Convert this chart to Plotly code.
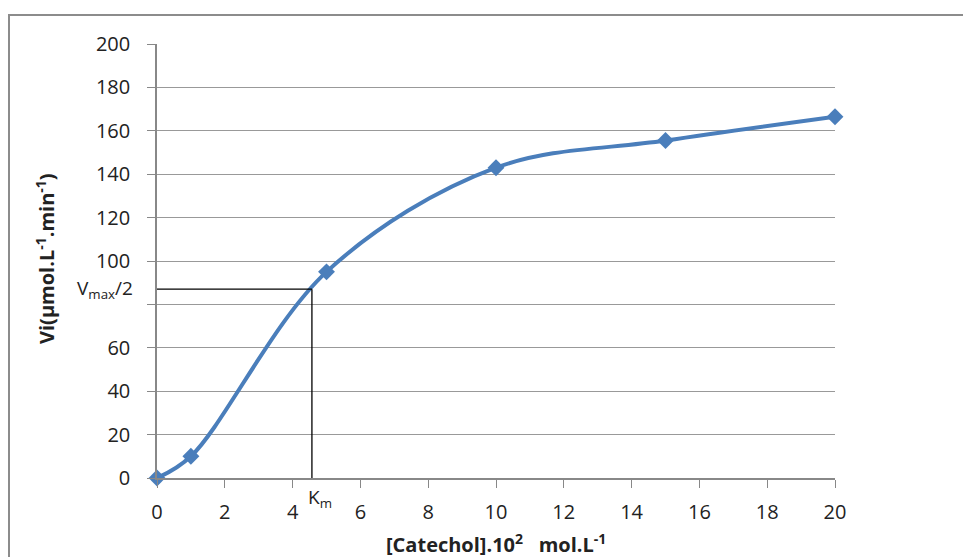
import plotly.graph_objects as go

# Initial velocity vs catechol concentration
conc = [0, 1, 5, 10, 15, 20]
vi = [0, 10, 95, 143, 155.5, 166.5]

km = 4.57
vmax_half = 87

y_ticks = [0, 20, 40, 60, 80, 100, 120, 140, 160, 180, 200]
y_labels = ["0", "20", "40", "60", "", "100", "120", "140", "160", "180", "200"]
x_ticks = [0, 2, 4, 6, 8, 10, 12, 14, 16, 18, 20]

x_title = "<b>[Catechol].10<sup>2</sup>&nbsp;&nbsp; mol.L<sup>-1</sup></b>"
y_title = "<b>Vi(µmol.L<sup>-1</sup>.min<sup>-1</sup>)</b>"

blue = "#4a7ebb"
grid = "#999999"
font_family = "Open Sans, Noto Sans, sans-serif"

# plot-area geometry in pixels
W, H = 963, 557
L, R, T, B = 157, 128, 44, 79
pw, ph = W - L - R, H - T - B

fig = go.Figure()

fig.add_trace(go.Scatter(
    x=conc, y=vi, mode="lines+markers",
    line=dict(color=blue, width=4, shape="spline", smoothing=1.0),
    marker=dict(symbol="diamond", size=13, color=blue),
    cliponaxis=False, showlegend=False,
))

# Km / Vmax/2 guide lines
fig.add_shape(type="line", xref="x", yref="y", x0=0, x1=km, y0=vmax_half, y1=vmax_half,
              line=dict(color="black", width=1.3))
fig.add_shape(type="line", xref="x", yref="y", x0=km, x1=km, y0=0, y1=vmax_half,
              line=dict(color="black", width=1.3))

fig.add_annotation(x=0, xref="x", y=vmax_half, yref="y", text="V<sub>max</sub>/2",
                   showarrow=False, xanchor="right", yanchor="middle", xshift=-22,
                   font=dict(family=font_family, size=19, color="#222"))
fig.add_annotation(x=km, xref="x", y=0, yref="y", text="K<sub>m</sub>",
                   showarrow=False, xanchor="center", yanchor="top", xshift=8, yshift=-4,
                   font=dict(family=font_family, size=19, color="#222"))

# Axis titles
fig.add_annotation(x=0.5, xref="paper", y=(478 - 543) / ph, yref="paper", text=x_title,
                   showarrow=False, xanchor="center", yanchor="middle",
                   font=dict(family=font_family, size=20, color="#222"))
fig.add_annotation(x=(45 - L) / pw, xref="paper", y=(478 - 259) / ph, yref="paper", text=y_title,
                   showarrow=False, xanchor="center", yanchor="middle", textangle=-90,
                   font=dict(family=font_family, size=20, color="#222"))

# Outer chart frame
fig.add_shape(type="rect", xref="paper", yref="paper",
              x0=(9 - L) / pw, x1=(975 - L) / pw,
              y0=(478 - 575) / ph, y1=(478 - 15) / ph,
              line=dict(color="#8c8c8c", width=2), fillcolor="rgba(0,0,0,0)", layer="below")

fig.update_layout(
    width=W, height=H,
    margin=dict(l=L, r=R, t=T, b=B),
    paper_bgcolor="white", plot_bgcolor="white",
    font=dict(family=font_family, size=16, color="#222"),
    xaxis=dict(
        range=[0, 20], tickvals=x_ticks, ticks="outside", ticklen=8, tickcolor="#888",
        showline=True, linecolor="#888", linewidth=1.5, showgrid=False, zeroline=False,
        ticklabelstandoff=7, tickfont=dict(size=20), automargin=False,
    ),
    yaxis=dict(
        range=[0, 200], tickvals=y_ticks, ticktext=y_labels, ticks="outside", ticklen=8,
        tickcolor="#888", showline=True, linecolor="#888", linewidth=1.5,
        showgrid=True, gridcolor=grid, gridwidth=1.3, zeroline=False,
        ticklabelstandoff=13, tickfont=dict(size=20), automargin=False,
    ),
)

fig.write_html("out.html")
